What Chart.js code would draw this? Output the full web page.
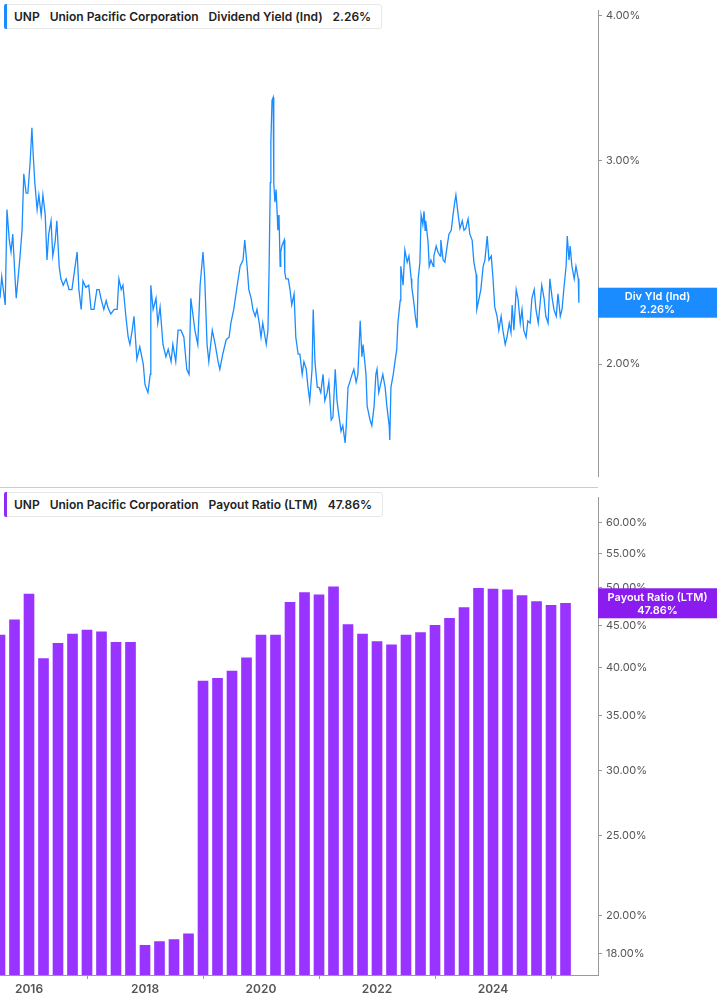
<!DOCTYPE html>
<html>
<head>
<meta charset="utf-8">
<script src="https://cdn.jsdelivr.net/npm/chart.js@4"></script>
<style>
  body { margin: 0; background: #fff; font-family: Inter, "Noto Sans", sans-serif; }
  #wrap { position: relative; width: 717px; height: 1005px; }
  #top { position: absolute; left: 0; top: 0; }
  #bottom { position: absolute; left: 0; top: 487px; }
  .divider { position: absolute; left: 0; top: 487px; width: 598px; height: 1px; background: #ccc; }
  .legend { position: absolute; left: 4px; background: #fff; border: 1px solid #e6e6e6; border-radius: 3px;
            font-size: 12px; font-weight: 600; color: #222; padding: 4px 10px 4px 9px; white-space: nowrap; }
  .legend::before { content: ""; position: absolute; left: -1px; top: -1px; bottom: -1px; width: 3px; border-radius: 2px 0 0 2px; }
  .legend.blue::before { background: #1a8cff; }
  .legend.purple::before { background: #8f2bf5; }
  .legend span { margin-right: 10px; }
</style>
</head>
<body>
<div id="wrap">
  <canvas id="top" width="717" height="487"></canvas>
  <canvas id="bottom" width="717" height="518"></canvas>
  <div class="divider"></div>
  <div class="legend blue" style="top:4px"><span>UNP</span><span>Union Pacific Corporation</span><span>Dividend Yield (Ind)</span>2.26%</div>
  <div class="legend purple" style="top:492px"><span>UNP</span><span>Union Pacific Corporation</span><span>Payout Ratio (LTM)</span>47.86%</div>
</div>
<script>
const YIELD_DATES = [2015.50,2015.53,2015.59,2015.62,2015.66,2015.69,2015.72,2015.76,2015.78,2015.81,2015.84,2015.88,2015.91,2015.95,2015.98,
  2016.02,2016.05,2016.07,2016.10,2016.14,2016.17,2016.21,2016.24,2016.28,2016.31,2016.34,2016.38,2016.41,2016.45,2016.48,2016.52,2016.55,2016.59,2016.64,2016.69,2016.74,2016.79,2016.83,2016.86,2016.90,2016.93,2016.98,
  2017.03,2017.07,2017.12,2017.17,2017.21,2017.24,2017.29,2017.33,2017.36,2017.41,2017.47,2017.52,2017.55,2017.59,2017.62,2017.67,2017.71,2017.74,2017.78,2017.81,2017.86,2017.91,2017.97,
  2018.00,2018.05,2018.09,2018.10,2018.14,2018.19,2018.22,2018.26,2018.31,2018.36,2018.40,2018.45,2018.48,2018.53,2018.57,2018.62,2018.67,2018.72,2018.76,2018.79,2018.83,2018.86,2018.91,2018.95,
  2019.00,2019.03,2019.07,2019.10,2019.16,2019.21,2019.26,2019.29,2019.34,2019.40,2019.45,2019.48,2019.53,2019.59,2019.64,2019.69,2019.72,2019.76,2019.79,2019.83,2019.86,2019.90,2019.93,2019.97,
  2020.00,2020.03,2020.07,2020.09,2020.12,2020.14,2020.16,2020.17,2020.19,2020.21,2020.22,2020.24,2020.26,2020.28,2020.29,2020.31,2020.33,2020.34,2020.36,2020.40,2020.41,2020.43,2020.47,2020.50,2020.53,2020.57,2020.60,2020.64,2020.67,2020.71,2020.74,2020.78,2020.81,2020.84,2020.88,2020.90,2020.93,2020.97,
  2021.00,2021.03,2021.07,2021.10,2021.14,2021.17,2021.21,2021.24,2021.28,2021.31,2021.34,2021.38,2021.41,2021.45,2021.47,2021.50,2021.53,2021.57,2021.60,2021.64,2021.67,2021.71,2021.74,2021.76,2021.81,2021.83,2021.88,2021.91,2021.95,2021.98,
  2022.00,2022.03,2022.07,2022.10,2022.14,2022.17,2022.21,2022.22,2022.24,2022.28,2022.31,2022.34,2022.36,2022.40,2022.41,2022.45,2022.48,2022.52,2022.55,2022.59,2022.60,2022.64,2022.66,2022.69,2022.71,2022.74,2022.76,2022.79,2022.81,2022.83,2022.84,2022.88,2022.90,2022.93,2022.97,2022.98,
  2023.02,2023.05,2023.09,2023.10,2023.14,2023.17,2023.21,2023.24,2023.28,2023.31,2023.34,2023.36,2023.40,2023.43,2023.47,2023.50,2023.53,2023.57,2023.60,2023.64,2023.67,2023.71,2023.72,2023.76,2023.79,2023.83,2023.86,2023.90,2023.93,2023.97,
  2024.00,2024.03,2024.07,2024.10,2024.14,2024.17,2024.21,2024.24,2024.28,2024.31,2024.33,2024.36,2024.40,2024.43,2024.47,2024.50,2024.53,2024.57,2024.60,2024.64,2024.67,2024.71,2024.74,2024.78,2024.81,2024.84,2024.88,2024.91,2024.95,2024.98,
  2025.02,2025.05,2025.09,2025.12,2025.16,2025.19,2025.22,2025.26,2025.28,2025.31,2025.33,2025.36,2025.40,2025.43,2025.47,2025.48];

const YIELD_VALUES = [2.28,2.38,2.25,2.72,2.56,2.50,2.59,2.37,2.28,2.37,2.46,2.61,2.92,2.81,2.81,
  2.99,3.20,3.05,2.87,2.72,2.80,2.69,2.80,2.69,2.46,2.59,2.66,2.48,2.55,2.66,2.43,2.37,2.34,2.37,2.32,2.32,2.42,2.50,2.32,2.23,2.36,2.33,
  2.34,2.23,2.23,2.32,2.32,2.28,2.23,2.27,2.24,2.21,2.23,2.23,2.37,2.32,2.34,2.20,2.11,2.08,2.14,2.20,2.02,2.07,2.00,
  1.92,1.89,1.96,2.34,2.23,2.28,2.17,2.24,2.08,2.03,2.06,2.01,2.08,2.01,2.14,2.14,2.11,1.98,1.96,2.28,2.20,2.14,2.08,2.34,
  2.50,2.37,2.08,2.01,2.14,2.08,2.01,1.98,2.04,2.10,2.11,2.17,2.23,2.34,2.43,2.46,2.56,2.43,2.32,2.28,2.23,2.20,2.23,2.17,
  2.11,2.17,2.11,2.08,2.14,2.43,2.87,3.11,3.38,3.40,2.87,2.76,2.83,2.69,2.61,2.69,2.43,2.50,2.53,2.56,2.40,2.37,2.37,2.32,2.25,2.30,2.11,2.04,2.04,1.96,2.01,1.98,1.91,1.86,1.98,2.23,2.01,1.91,
  1.91,1.89,1.96,1.86,1.89,1.93,1.79,1.80,1.98,1.86,1.81,1.75,1.77,1.71,1.77,1.91,1.93,1.96,1.98,1.93,1.96,2.18,2.03,2.08,1.96,1.84,1.79,1.77,1.84,1.96,
  1.98,1.89,1.93,1.96,1.91,1.84,1.77,1.72,1.91,1.96,2.01,2.06,2.17,2.27,2.43,2.34,2.51,2.45,2.48,2.37,2.33,2.25,2.20,2.15,2.37,2.45,2.69,2.64,2.71,2.61,2.66,2.55,2.43,2.46,2.43,2.48,
  2.53,2.50,2.48,2.56,2.46,2.45,2.53,2.59,2.61,2.69,2.76,2.80,2.69,2.62,2.66,2.61,2.62,2.67,2.59,2.56,2.45,2.39,2.23,2.28,2.32,2.43,2.46,2.58,2.46,2.48,
  2.37,2.24,2.20,2.14,2.20,2.14,2.08,2.11,2.17,2.13,2.25,2.14,2.32,2.28,2.17,2.23,2.14,2.11,2.18,2.17,2.28,2.32,2.23,2.17,2.25,2.34,2.28,2.20,2.17,2.37,
  2.28,2.23,2.20,2.30,2.20,2.23,2.32,2.43,2.58,2.46,2.53,2.43,2.37,2.43,2.37,2.26];

const PAYOUT_DATES = [2015.50,2015.75,2016.00,2016.25,2016.50,2016.75,2017.00,2017.25,2017.50,2017.75,
  2018.00,2018.25,2018.50,2018.75,2019.00,2019.25,2019.50,2019.75,2020.00,2020.25,
  2020.50,2020.75,2021.00,2021.25,2021.50,2021.75,2022.00,2022.25,2022.50,2022.75,
  2023.00,2023.25,2023.50,2023.75,2024.00,2024.25,2024.50,2024.75,2025.00,2025.25];
const PAYOUT_VALUES = [43.8,45.7,49.1,41.0,42.8,43.9,44.4,44.2,42.9,42.9,
  18.4,18.6,18.7,19.0,38.5,38.8,39.6,41.1,43.8,43.8,
  48.0,49.3,49.0,50.1,45.1,43.9,43.0,42.6,43.8,44.1,
  45.0,45.9,47.3,49.9,49.8,49.7,48.9,48.1,47.6,47.86];

const YIELD_TICKS = [2, 3, 4];
const PAYOUT_TICKS = [18, 20, 25, 30, 35, 40, 45, 50, 55, 60];
const YEAR_TICKS = [2016, 2018, 2020, 2022, 2024];

const X_MIN = 2015.5, X_MAX = 2025.81;
const AXIS_W = 119;
const FONT = { family: 'Inter, "Noto Sans", sans-serif', size: 11 };

function badgePlugin(id, value, text, color) {
  return {
    id,
    afterDraw(chart) {
      const { ctx, scales, chartArea } = chart;
      const y = scales.y.getPixelForValue(value);
      ctx.save();
      ctx.fillStyle = color;
      ctx.fillRect(chartArea.right, y - 15, AXIS_W, 30);
      ctx.fillStyle = '#fff';
      ctx.font = '600 11px Inter, "Noto Sans", sans-serif';
      ctx.textAlign = 'center';
      ctx.textBaseline = 'middle';
      const cx = chartArea.right + AXIS_W / 2;
      ctx.fillText(text, cx, y - 6);
      ctx.fillText(value.toFixed(2) + '%', cx, y + 7);
      ctx.restore();
    }
  };
}

function yAxis(min, max, ticks) {
  return {
    type: 'logarithmic',
    position: 'right',
    min, max,
    afterBuildTicks: s => { s.ticks = ticks.map(v => ({ value: v })); },
    afterFit: s => { s.width = AXIS_W; },
    border: { display: true, color: '#999' },
    grid: { drawOnChartArea: false, tickLength: 4, color: '#999' },
    ticks: { color: '#555', font: FONT, padding: 4, callback: v => v.toFixed(2) + '%' }
  };
}

new Chart(document.getElementById('top'), {
  type: 'line',
  data: {
    datasets: [{
      data: YIELD_DATES.map((d, i) => ({ x: d, y: YIELD_VALUES[i] })),
      borderColor: '#1a8cff',
      borderWidth: 1.3,
      pointRadius: 0,
      tension: 0
    }]
  },
  options: {
    animation: false,
    responsive: false,
    layout: { padding: 0 },
    plugins: { legend: { display: false }, tooltip: { enabled: false } },
    scales: {
      x: { type: 'linear', min: X_MIN, max: X_MAX, display: false },
      y: yAxis(1.60, 4.04, YIELD_TICKS)
    }
  },
  plugins: [badgePlugin('yieldBadge', 2.26, 'Div Yld (Ind)', '#1a8cff')]
});

new Chart(document.getElementById('bottom'), {
  type: 'bar',
  data: {
    datasets: [{
      data: PAYOUT_DATES.map((d, i) => ({ x: d, y: PAYOUT_VALUES[i] })),
      backgroundColor: '#9933ff',
      barThickness: 10
    }]
  },
  options: {
    animation: false,
    responsive: false,
    layout: { padding: 0 },
    plugins: { legend: { display: false }, tooltip: { enabled: false } },
    scales: {
      x: {
        type: 'linear', min: X_MIN, max: X_MAX, offset: false,
        afterBuildTicks: s => { s.ticks = YEAR_TICKS.map(v => ({ value: v })); },
        afterFit: s => { s.height = 30; },
        border: { display: true, color: '#999' },
        grid: { drawOnChartArea: false, tickLength: 4, color: '#999' },
        ticks: { color: '#555', font: { ...FONT, size: 12, weight: '600' }, maxRotation: 0, callback: v => String(v) }
      },
      y: yAxis(16.94, 64.3, PAYOUT_TICKS)
    }
  },
  plugins: [badgePlugin('payoutBadge', 47.86, 'Payout Ratio (LTM)', '#8a1cf0')]
});
</script>
</body>
</html>
